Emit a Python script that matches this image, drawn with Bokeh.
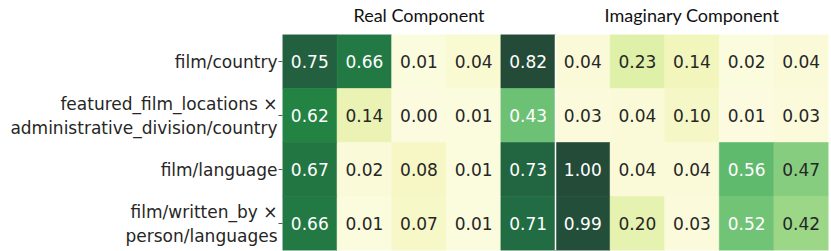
from bokeh.plotting import figure
from bokeh.models import Range1d, FixedTicker, Span, LinearAxis, ColumnDataSource
from bokeh.core.properties import value
from bokeh.embed import file_html
from bokeh.resources import INLINE

# ---- data ----
rows = [
    "film/country",
    "featured_film_locations \u00d7\nadministrative_division/country",
    "film/language",
    "film/written_by \u00d7\nperson/languages",
]
real = [
    [0.75, 0.66, 0.01, 0.04, 0.82],
    [0.62, 0.14, 0.00, 0.01, 0.43],
    [0.67, 0.02, 0.08, 0.01, 0.73],
    [0.66, 0.01, 0.07, 0.01, 0.71],
]
imag = [
    [0.04, 0.23, 0.14, 0.02, 0.04],
    [0.03, 0.04, 0.10, 0.01, 0.03],
    [1.00, 0.04, 0.04, 0.56, 0.47],
    [0.99, 0.20, 0.03, 0.52, 0.42],
]
group_titles = ["Real Component", "Imaginary Component"]

# YlGn-like colour stops
stops = ["#fcfbe0", "#f4f6bd", "#d9eea3", "#addd8e", "#78c679",
         "#41ab5d", "#238443", "#216a42", "#234b38"]


def hex2rgb(h):
    h = h.lstrip("#")
    return [int(h[i:i + 2], 16) for i in (0, 2, 4)]


stop_rgb = [hex2rgb(s) for s in stops]


def cmap(t):
    t = min(max(t, 0.0), 1.0)
    pos = t * (len(stop_rgb) - 1)
    i = min(int(pos), len(stop_rgb) - 2)
    f = pos - i
    a, b = stop_rgb[i], stop_rgb[i + 1]
    c = [round(a[k] + (b[k] - a[k]) * f) for k in range(3)]
    return "#%02x%02x%02x" % tuple(c)


n_rows = len(rows)
n_real = len(real[0])
n_imag = len(imag[0])
n_cols = n_real + n_imag

left, right, bottom, top, colors, xs, ys, labels, tcolors = [], [], [], [], [], [], [], [], []
for block, offset in ((real, 0), (imag, n_real)):
    flat = [v for r in block for v in r]
    vmin, vmax = min(flat), max(flat)
    for ri, r in enumerate(block):
        yb = n_rows - 1 - ri
        for ci, v in enumerate(r):
            t = (v - vmin) / (vmax - vmin)
            x0 = offset + ci
            left.append(x0)
            right.append(x0 + 1)
            bottom.append(yb)
            top.append(yb + 1)
            colors.append(cmap(t))
            xs.append(x0 + 0.5)
            ys.append(yb + 0.5)
            labels.append("%.2f" % v)
            tcolors.append("#ffffff" if t > 0.5 else "#262626")

src = ColumnDataSource(dict(left=left, right=right, bottom=bottom, top=top,
                            color=colors, x=xs, y=ys, label=labels, tc=tcolors))

p = figure(frame_width=546, frame_height=216, output_backend="svg",
           toolbar_location=None, x_axis_location=None,
           x_range=Range1d(0, n_cols), y_range=Range1d(0, n_rows),
           min_border_left=282, min_border_right=3, min_border_top=32,
           min_border_bottom=3)
p.outline_line_color = None
p.grid.visible = False
p.background_fill_color = "white"
p.border_fill_color = "white"

p.quad(left="left", right="right", bottom="bottom", top="top", source=src,
       fill_color="color", line_color="color", line_width=0.6)
p.text(x="x", y="y", text="label", source=src, text_color="tc",
       text_font=value("DejaVu Sans"), text_font_size="17px",
       text_align="center", text_baseline="middle")

p.add_layout(Span(location=n_real, dimension="height", line_color="white",
                  line_width=1.5))

yax = p.yaxis[0]
tick_pos = [n_rows - 1 - i + 0.5 for i in range(n_rows)]
yax.ticker = FixedTicker(ticks=tick_pos)
yax.major_label_overrides = {tp: rows[i] for i, tp in enumerate(tick_pos)}
yax.axis_line_color = None
yax.minor_tick_line_color = None
yax.major_tick_in = 0
yax.major_tick_out = 4
yax.major_tick_line_color = "#555555"
yax.major_label_standoff = 1
yax.major_label_text_font = "DejaVu Sans"
yax.major_label_text_font_size = "17px"
yax.major_label_text_color = "#262626"

# group titles as a top axis
centers = [n_real / 2, n_real + n_imag / 2]
tax = LinearAxis(ticker=FixedTicker(ticks=centers),
                 major_label_overrides={c: t for c, t in zip(centers, group_titles)})
tax.axis_line_color = None
tax.major_tick_line_color = None
tax.minor_tick_line_color = None
tax.major_tick_in = 0
tax.major_tick_out = 0
tax.major_label_standoff = 9
tax.major_label_text_font = "Lato"
tax.major_label_text_font_size = "18px"
tax.major_label_text_color = "#111111"
p.add_layout(tax, "above")

open("out.html", "w").write(file_html(p, INLINE))
